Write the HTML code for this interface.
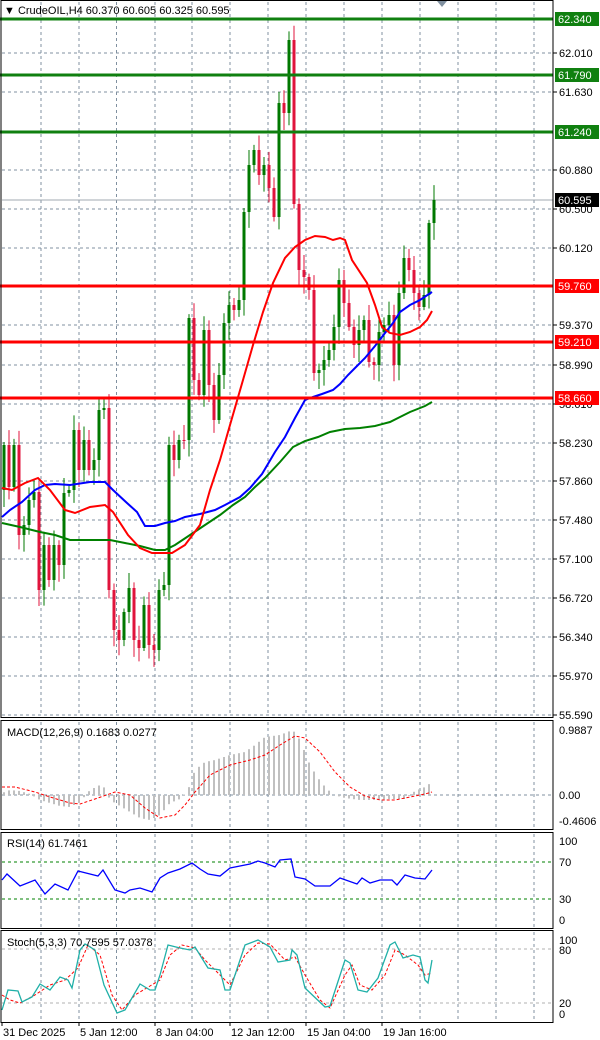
<!DOCTYPE html>
<html><head><meta charset="utf-8"><style>
html,body{margin:0;padding:0;background:#fff;}
svg{display:block;font-family:"Liberation Sans",sans-serif;}
</style></head><body>
<svg id="s" width="600" height="1040" xmlns="http://www.w3.org/2000/svg"></svg>
<script>
const S=document.getElementById('s');let h='';
const R=553;
function line(x1,y1,x2,y2,c,w,d){h+=`<line x1="${x1}" y1="${y1}" x2="${x2}" y2="${y2}" stroke="${c}" stroke-width="${w||1}"${d?` stroke-dasharray="${d}"`:''}/>`;}
function txt(x,y,t,c,sz,anchor){h+=`<text x="${x}" y="${y}" fill="${c||'#000'}" font-size="${sz||11}"${anchor?` text-anchor="${anchor}"`:''}>${t}</text>`;}
function poly(pts,c,w,d){h+=`<polyline fill="none" points="${pts.map(p=>p.join(',')).join(' ')}" stroke="${c}" stroke-width="${w||1}"${d?` stroke-dasharray="${d}"`:''}/>`;}
const vx=[41,79,116.5,155,192,230,268,306,344,382,420,458,496,534];
// panels
const panels=[[0,717],[720,829],[832,928],[930,1022]];
// vertical grid
panels.forEach(p=>vx.forEach(x=>line(x,p[0]+2,x,p[1]-1,'#8090a0',1,'3,3')));
// main horizontal grid
const gl=[[62.010,53],[61.630,92],[60.880,170],[60.500,209],[60.120,248],[59.370,325],[58.990,365],[58.610,404],[58.230,443],[57.860,481],[57.480,520],[57.100,559],[56.720,598],[56.340,637],[55.970,676],[55.590,715]];
gl.forEach(g=>{line(2,g[1],R,g[1],'#8090a0',1,'3,3');line(R,g[1],R+4,g[1],'#000',1);txt(559,g[1]+4,g[0].toFixed(3));});
// current price line
line(2,200,R,200,'#a0a8b0',1);
// MAs
const red=[[2,488],[12,490],[25,483],[38,478],[50,490],[65,510],[75,513],[90,507],[105,505],[113,512],[128,535],[140,548],[152,553],[160,553],[172,553],[185,545],[200,525],[210,490],[220,460],[230,425],[243,380],[253,345],[263,312],[273,283],[285,258],[295,247],[305,240],[315,236],[325,237],[333,240],[340,238],[345,240],[352,260],[367,283],[375,305],[382,327],[390,333],[400,335],[410,332],[420,327],[427,320],[432,311]];
const blue=[[2,517],[10,510],[22,502],[35,490],[45,485],[55,484],[70,485],[90,482],[105,482],[113,490],[127,503],[137,512],[145,526],[155,526],[165,523],[175,521],[185,517],[200,514],[215,510],[225,505],[240,497],[250,488],[262,474],[275,452],[285,437],[295,418],[305,400],[313,397],[322,394],[333,390],[340,384],[348,375],[357,366],[365,358],[375,346],[385,333],[393,323],[400,312],[410,305],[420,300],[432,292]];
const green=[[2,523],[20,527],[40,532],[55,535],[70,540],[80,540],[95,540],[110,540],[125,543],[140,546],[155,550],[165,550],[175,545],[190,535],[205,525],[220,515],[233,505],[245,497],[255,487],[265,478],[280,462],[293,447],[305,441],[318,437],[330,432],[345,429],[360,428],[375,426],[390,422],[400,417],[410,412],[425,406],[432,402]];
// candles
const cl=[445,487,445,535,525,500,492,590,545,580,545,565,493,490,430,470,440,470,460,410,408,590,630,640,612,588,640,648,605,645,650,590,585,445,460,440,440,318,380,395,330,385,420,375,323,305,310,300,212,165,150,175,165,188,217,103,113,40,204,270,277,290,373,370,360,350,327,280,303,327,345,330,320,362,365,332,325,315,365,293,258,270,293,307,295,223,200];
let o=490;
cl.forEach((c,i)=>{const x=4+5*i;const col=c<o?'#007800':'#e0143c';
 const w1=3+Math.abs(Math.sin(i*1.7))*12, w2=3+Math.abs(Math.cos(i*2.3))*14;
 const t=Math.min(o,c),b=Math.max(o,c);
 line(x,t-w1,x,b+w2,col,1);
 h+=`<rect x="${x-1.5}" y="${t}" width="3" height="${Math.max(1,b-t)}" fill="${col}"/>`;o=c;});
poly(green,'#008000',2);poly(blue,'#0000ff',2);poly(red,'#ff0000',2);
// level lines
[[19,'62.340'],[75,'61.790'],[132,'61.240']].forEach(l=>{line(0,l[0],R,l[0],'#108010',3);h+=`<rect x="555" y="${l[0]-7}" width="44" height="14" fill="#108010"/>`;txt(558,l[0]+4,l[1],'#fff');});
[[286,'59.760'],[342,'59.210'],[398,'58.660']].forEach(l=>{line(0,l[0],R,l[0],'#ff0000',3);h+=`<rect x="555" y="${l[0]-7}" width="44" height="14" fill="#ff0000"/>`;txt(558,l[0]+4,l[1],'#fff');});
h+=`<rect x="555" y="193" width="44" height="14" fill="#000"/>`;txt(558,204,'60.595','#fff');
txt(4,14,'▼ CrudeOIL,H4  60.370 60.605 60.325 60.595','#000',11);
h+=`<polygon points="437,1 447,1 442,7" fill="#8090a0"/>`;
// MACD
line(2,795,R,795,'#8090a0',1,'3,3');
const hist=[[2,793],[10,790],[20,791],[30,794],[40,800],[50,803],[60,806],[70,807],[80,802],[90,790],[100,785],[105,788],[110,800],[120,806],[130,812],[140,818],[150,820],[160,815],[170,803],[180,799],[188,790],[195,770],[205,762],[215,760],[230,755],[245,752],[255,745],[265,737],[280,735],[290,731],[296,732],[302,745],[310,765],[318,778],[326,788],[334,795],[345,798],[360,800],[375,800],[390,799],[405,799],[415,791],[425,787],[432,782]];
function interp(arr,x){for(let i=1;i<arr.length;i++){if(x<=arr[i][0]){const a=arr[i-1],b=arr[i];return a[1]+(b[1]-a[1])*(x-a[0])/(b[0]-a[0]);}}return arr[arr.length-1][1];}
for(let x=4;x<=432;x+=5){line(x,795,x,interp(hist,x),'#c0c0c0',2);}
poly([[2,787],[15,787],[35,792],[50,797],[70,803],[80,804],[95,799],[115,792],[130,795],[145,808],[160,818],[175,815],[185,805],[195,792],[210,775],[230,765],[250,760],[265,755],[280,745],[295,736],[305,738],[320,752],[335,772],[350,787],[365,796],[380,800],[395,800],[410,797],[425,794],[432,792]],'#ff0000',1,'3,2');
txt(7,736,'MACD(12,26,9) 0.1683 0.0277');
txt(559,734,'0.9887');txt(559,799,'0.00');txt(559,825,'-0.4606');
// RSI
line(2,862,R,862,'#008000',1,'3,3');line(2,899,R,899,'#008000',1,'3,3');
poly([[2,880],[7,874],[20,886],[35,880],[45,894],[55,884],[68,890],[78,871],[98,876],[103,870],[115,890],[125,893],[130,890],[140,888],[152,892],[160,878],[168,873],[180,869],[192,863],[200,869],[208,874],[220,876],[230,868],[250,864],[258,861],[265,863],[275,867],[280,860],[291,859],[295,877],[305,879],[315,886],[330,886],[340,878],[357,884],[362,878],[370,883],[380,880],[392,880],[397,885],[405,875],[415,878],[425,879],[432,870]],'#0000ff',1.3);
txt(7,847,'RSI(14) 61.7461');
txt(559,845,'100');txt(559,866,'70');txt(559,903,'30');txt(559,924,'0');
// Stoch
line(2,949,R,949,'#b0b0b0',1,'3,3');line(2,1003,R,1003,'#b0b0b0',1,'3,3');
poly([[2,995],[10,1000],[20,1003],[35,995],[50,985],[65,980],[78,968],[88,945],[100,955],[112,995],[122,1010],[135,995],[150,986],[160,980],[170,955],[182,945],[195,948],[205,960],[220,975],[230,985],[245,955],[258,943],[270,944],[285,960],[295,957],[305,975],[320,1000],[330,1008],[345,975],[352,965],[360,985],[372,990],[385,975],[395,950],[405,955],[418,965],[425,975],[432,973]],'#ff0000',1,'3,2');
poly([[2,1010],[8,990],[18,991],[22,1002],[32,997],[40,984],[50,990],[60,977],[68,980],[72,988],[80,950],[85,944],[95,950],[104,985],[117,1013],[125,1010],[140,984],[150,990],[155,990],[160,975],[168,945],[180,948],[190,950],[195,947],[208,968],[220,970],[225,990],[230,990],[245,945],[258,940],[270,947],[278,962],[290,960],[292,950],[297,955],[305,988],[325,1007],[330,1006],[345,960],[350,963],[358,990],[367,992],[378,978],[390,945],[395,942],[403,958],[413,955],[420,957],[425,980],[428,983],[432,960]],'#20b0a8',1.3);
txt(7,946,'Stoch(5,3,3) 70.7595 57.0378');
txt(559,944,'100');txt(559,954,'80');txt(559,1007,'20');txt(559,1018,'0');
// panel frames
panels.forEach(p=>{h+=`<rect x="1" y="${p[0]+0.5}" width="${R-1}" height="${p[1]-p[0]}" fill="none" stroke="#000" stroke-width="1"/>`;});
// date labels
[[2,'31 Dec 2025'],[79,'5 Jan 12:00'],[155,'8 Jan 04:00'],[230,'12 Jan 12:00'],[306,'15 Jan 04:00'],[382,'19 Jan 16:00']].forEach(d=>{line(d[0],1022,d[0],1026,'#000',1);txt(d[0]+1,1036,d[1]);});
S.innerHTML=h;
</script>
</body></html>
